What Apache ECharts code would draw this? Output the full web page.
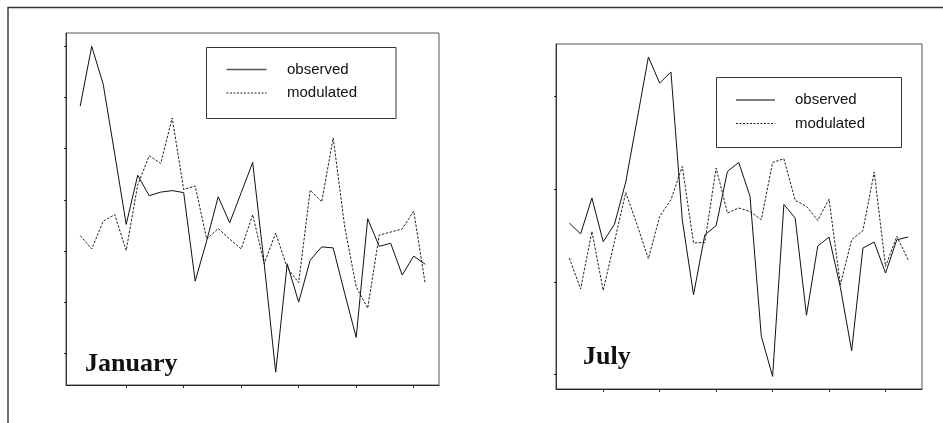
<!DOCTYPE html>
<html>
<head>
<meta charset="utf-8">
<script src="https://cdn.jsdelivr.net/npm/echarts@6/dist/echarts.min.js"></script>
<style>
html,body{margin:0;padding:0;background:#fff;}
#chart{width:943px;height:423px;}
</style>
</head>
<body>
<div id="chart"></div>
<script>
// Day index of each point (31 points per panel)
const days = [1,2,3,4,5,6,7,8,9,10,11,12,13,14,15,16,17,18,19,20,21,22,23,24,25,26,27,28,29,30,31];

// January (values in tick units)
const janObserved = [4.83,6.00,5.26,3.90,2.52,3.48,3.08,3.15,3.18,3.14,1.41,2.20,3.06,2.55,3.14,3.73,1.75,-0.37,1.75,1.00,1.82,2.08,2.06,1.17,0.31,2.63,2.09,2.15,1.53,1.90,1.74];
const janModulated = [2.30,2.04,2.58,2.71,2.01,3.29,3.86,3.71,4.60,3.20,3.27,2.23,2.44,2.23,2.04,2.71,1.75,2.35,1.67,1.38,3.19,2.96,4.21,2.47,1.30,0.88,2.31,2.37,2.43,2.78,1.36];

// July
const julObserved = [1.635,1.518,1.905,1.434,1.622,2.078,2.749,3.425,3.144,3.263,1.671,0.862,1.509,1.606,2.191,2.288,1.924,0.415,-0.018,1.836,1.689,0.641,1.387,1.484,0.943,0.259,1.366,1.430,1.096,1.455,1.484];
const julModulated = [1.258,0.924,1.545,0.909,1.437,1.965,1.617,1.250,1.706,1.886,2.245,1.420,1.426,2.228,1.743,1.797,1.760,1.671,2.288,2.328,1.879,1.814,1.663,1.894,0.970,1.455,1.555,2.185,1.167,1.491,1.240];

// Tick positions (no labels in the original)
const janTicksX = [5,10,15,20,25,30];
const janTicksY = [0,1,2,3,4,5,6];
const julTicksX = [4,9,14,19,24,29];
const julTicksY = [0,1,2,3];

const seriesNames = ['observed','modulated'];
const panelTitles = ['January','July'];

const pairs = (vals) => days.map((d,i) => [d, vals[i]]);

const chart = echarts.init(document.getElementById('chart'), null, {renderer:'canvas'});

function xAxisDef(gridIndex, min, max, ticks){
  return {
    type:'value', gridIndex, min, max,
    axisLine:{show:true, onZero:false, lineStyle:{color:'#222', width:1}},
    axisTick:{show:true, inside:false, length:3, customValues:ticks, lineStyle:{color:'#222', width:1}},
    axisLabel:{show:false, customValues:ticks},
    splitLine:{show:false}
  };
}
function yAxisDef(gridIndex, min, max, ticks){
  return {
    type:'value', gridIndex, min, max,
    axisLine:{show:true, onZero:false, lineStyle:{color:'#333', width:1}},
    axisTick:{show:true, inside:false, length:2, customValues:ticks, lineStyle:{color:'#222', width:1}},
    axisLabel:{show:false, customValues:ticks},
    splitLine:{show:false}
  };
}
const solid = {color:'#111', width:1, type:'solid'};
const dashed = {color:'#222', width:1, type:[2.5,1.5]};

// Legend box drawn as graphic group: box [x,y,w,h], line sample x-range, text x, row y's
function legendGraphic(bx, by, bw, bh, lx0, lx1, tx, y1, y2){
  return {
    type:'group', silent:true, z:10,
    children:[
      {type:'rect', shape:{x:bx, y:by, width:bw, height:bh}, style:{fill:'#fff', stroke:'#333', lineWidth:1}},
      {type:'line', shape:{x1:lx0, y1:y1, x2:lx1, y2:y1}, style:{stroke:'#555', lineWidth:1.5}},
      {type:'line', shape:{x1:lx0, y1:y2, x2:lx1, y2:y2}, style:{stroke:'#222', lineWidth:1, lineDash:[2,1.5]}},
      {type:'text', x:tx, y:y1, style:{text:seriesNames[0], font:'15px "Liberation Sans"', fill:'#111', textVerticalAlign:'middle'}},
      {type:'text', x:tx, y:y2, style:{text:seriesNames[1], font:'15px "Liberation Sans"', fill:'#111', textVerticalAlign:'middle'}}
    ]
  };
}

const option = {
  animation:false,
  backgroundColor:'#fff',
  grid:[
    {left:66, top:33, width:373, height:352, show:true, borderColor:'#555', borderWidth:1, backgroundColor:'transparent'},
    {left:556, top:44, width:366, height:345, show:true, borderColor:'#555', borderWidth:1, backgroundColor:'transparent'}
  ],
  xAxis:[ xAxisDef(0, -0.235, 32.2, janTicksX), xAxisDef(1, -0.18, 32.23, julTicksX) ],
  yAxis:[ yAxisDef(0, -0.62, 6.26, janTicksY), yAxisDef(1, -0.154, 3.565, julTicksY) ],
  series:[
    {name:seriesNames[0], type:'line', xAxisIndex:0, yAxisIndex:0, data:pairs(janObserved), symbol:'none', lineStyle:solid, z:3},
    {name:seriesNames[1], type:'line', xAxisIndex:0, yAxisIndex:0, data:pairs(janModulated), symbol:'none', lineStyle:dashed, z:2},
    {name:seriesNames[0], type:'line', xAxisIndex:1, yAxisIndex:1, data:pairs(julObserved), symbol:'none', lineStyle:solid, z:3},
    {name:seriesNames[1], type:'line', xAxisIndex:1, yAxisIndex:1, data:pairs(julModulated), symbol:'none', lineStyle:dashed, z:2}
  ],
  graphic:[
    {type:'polyline', silent:true, shape:{points:[[8,423],[8,7.5],[943,7.5]]}, style:{stroke:'#333', lineWidth:1.4, fill:null}},
    legendGraphic(206.5, 47.5, 189.5, 71, 226.5, 266.5, 287, 69.5, 93),
    legendGraphic(716.5, 77.5, 185, 70, 736, 775, 795, 100, 123.5),
    {type:'text', silent:true, x:85, y:364, style:{text:panelTitles[0], font:'bold 26px "Liberation Serif"', fill:'#111', textVerticalAlign:'middle'}},
    {type:'text', silent:true, x:583, y:357, style:{text:panelTitles[1], font:'bold 26px "Liberation Serif"', fill:'#111', textVerticalAlign:'middle'}}
  ]
};
chart.setOption(option);
</script>
</body>
</html>
